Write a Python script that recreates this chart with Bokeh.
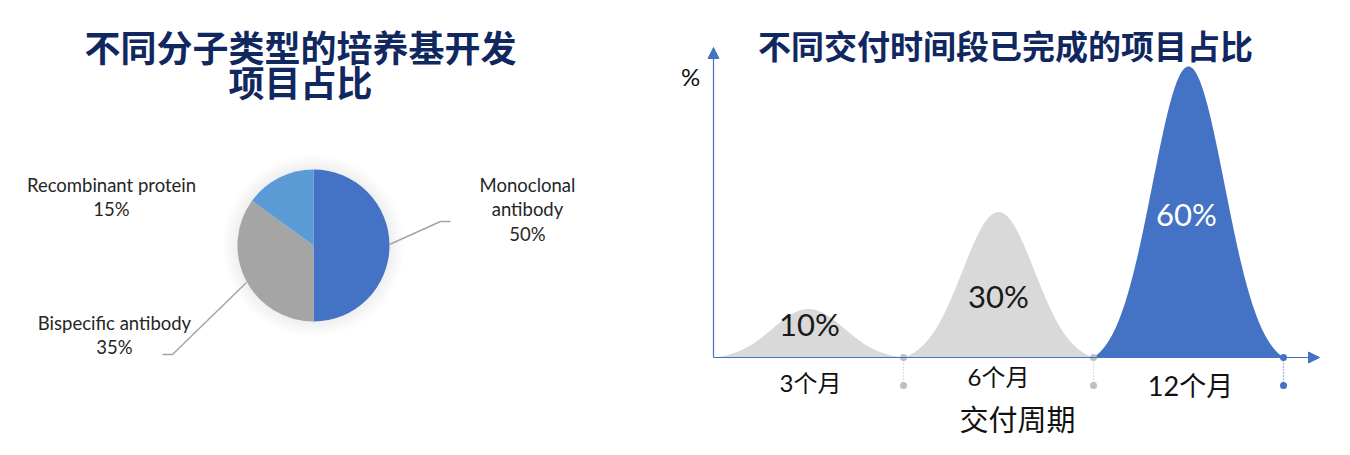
import numpy as np
from bokeh.plotting import figure
from bokeh.models import Range1d, Arrow, NormalHead, ColumnDataSource
from bokeh.layouts import row
from bokeh.core.properties import value
from bokeh.embed import file_html
from bokeh.resources import INLINE

# ---------------- data ----------------
pie_categories = ["Monoclonal antibody", "Bispecific antibody", "Recombinant protein"]
pie_values = [50, 35, 15]
pie_colors = ["#4472C4", "#A5A5A5", "#5B9BD5"]

period_labels = ["3个月", "6个月", "12个月"]
period_values = [10, 30, 60]
period_colors = ["#D9D9D9", "#D9D9D9", "#4472C4"]
period_text_colors = ["#1A1A1A", "#1A1A1A", "#FFFFFF"]
divider_colors = ["#BFBFBF", "#BFBFBF", "#4472C4"]

left_title = ["不同分子类型的培养基开发", "项目占比"]
right_title = "不同交付时间段已完成的项目占比"
x_axis_title = "交付周期"
y_axis_title = "%"

# ---------------- styling ----------------
NAVY = "#10285F"
CJK = "Noto Sans CJK SC"
LAT = "Lato"
MIX = "Lato, 'Noto Sans CJK SC'"
H = 439
LW, RW = 660, 674


def make_fig(w, xr, yr):
    f = figure(width=w, height=H, x_range=xr, y_range=yr, output_backend="svg",
               toolbar_location=None, min_border=0, x_axis_location=None,
               y_axis_location=None)
    f.grid.visible = False
    f.outline_line_color = None
    f.background_fill_color = "white"
    f.border_fill_color = "white"
    return f

# ================= left: pie =================
def L(px, py):
    return px, H - py

pl = make_fig(LW, Range1d(0, LW), Range1d(0, H))

cx, cy = L(313, 245)
R0 = 76
# soft glow
for r in range(R0 + 1, R0 + 16, 2):
    pl.circle(x=cx, y=cy, radius=r, fill_color="black", fill_alpha=0.006, line_color=None)

total = float(sum(pie_values))
cum = np.cumsum([0] + pie_values) / total
src = ColumnDataSource(dict(
    start=np.pi / 2 - 2 * np.pi * cum[:-1],
    end=np.pi / 2 - 2 * np.pi * cum[1:],
    color=pie_colors,
))
pl.wedge(x=cx, y=cy, radius=R0, start_angle="start", end_angle="end", direction="clock",
         fill_color="color", line_color=None, source=src)

# leader lines
for pts in ([(389, 244), (440, 221), (450, 221)], [(246, 282), (172, 354), (162, 354)]):
    xs, ys = zip(*[L(*p) for p in pts])
    pl.line(x=list(xs), y=list(ys), line_color="#A5A5A5", line_width=1.5)

# pie labels
lab_lines = {
    "Monoclonal antibody": (["Monoclonal", "antibody"], 527, 184),
    "Bispecific antibody": (["Bispecific antibody"], 114, 322),
    "Recombinant protein": (["Recombinant protein"], 111, 184),
}
tx, ty, tt = [], [], []
for cat, v in zip(pie_categories, pie_values):
    lines, px, py = lab_lines[cat]
    lines = lines + ["%d%%" % v]
    for k, s in enumerate(lines):
        x, y = L(px, py + 24.5 * k)
        tx.append(x); ty.append(y); tt.append(s)
pl.text(x=tx, y=ty, text=tt, text_align="center", text_baseline="middle",
        text_font=value(LAT), text_font_size="18.5px", text_color="#262626")

# title
t1 = L(300, 45); t2 = L(300, 80)
pl.text(x=[t1[0], t2[0]], y=[t1[1], t2[1]], text=left_title, text_align="center",
        text_baseline="middle", text_font=value(CJK), text_font_size="36px",
        text_font_style="bold", text_color=NAVY)

# ================= right: peaks =================
X0 = LW
ox, kx = 713.0, 190.0
base_py, ky = 357.0, 4.85

def R(px, py):
    return (px - ox) / kx, (base_py - py) / ky

pr = make_fig(RW, Range1d((X0 - ox) / kx, (X0 + RW - ox) / kx),
              Range1d((base_py - H) / ky, base_py / ky))

sig = 0.19
for i, (v, c) in enumerate(zip(period_values, period_colors)):
    xs = np.linspace(i, i + 1, 241)
    g = np.exp(-0.5 * ((xs - (i + 0.5)) / sig) ** 2)
    g0 = np.exp(-0.5 * (0.5 / sig) ** 2)
    shape = (g - g0) / (1 - g0)
    pr.varea(x=xs, y1=np.zeros_like(xs), y2=v * shape, fill_color=c)

BLUE = "#4472C4"
# axes with arrows
ytip = R(713, 47)[1]
xtip = R(1319, 357)[0]
pr.add_layout(Arrow(end=NormalHead(size=11, fill_color=BLUE, line_color=BLUE),
                    x_start=0, y_start=0, x_end=0, y_end=ytip,
                    line_color=BLUE, line_width=1.2))
pr.add_layout(Arrow(end=NormalHead(size=11, fill_color=BLUE, line_color=BLUE),
                    x_start=0, y_start=0, x_end=xtip, y_end=0,
                    line_color=BLUE, line_width=1.2))

# dividers under the axis
ylow = R(0, 385)[1]
for i, c in enumerate(divider_colors):
    xd = i + 1
    pr.segment(x0=xd, y0=0, x1=xd, y1=ylow, line_color=c, line_width=1.2, line_dash="1 2")
    pr.scatter(x=[xd, xd], y=[0, ylow], size=7, fill_color=c, line_color=None)

# value labels inside peaks
vpos = [(809, 323), (998, 295), (1186, 213)]
vx, vy = zip(*[R(*p) for p in vpos])
pr.text(x=list(vx), y=list(vy), text=["%d%%" % v for v in period_values],
        text_align="center", text_baseline="middle", text_font=value(LAT),
        text_font_size="31px", text_color=period_text_colors)

# category labels
cpos = [(810, 382), (998, 376), (1190, 385)]
csz = ["24px", "24px", "27px"]
for (px, py), lab, sz in zip(cpos, period_labels, csz):
    x, y = R(px, py)
    pr.text(x=[x], y=[y], text=[lab], text_align="center", text_baseline="middle",
            text_font=value(MIX), text_font_size=sz, text_color="#111111")

# axis titles
x, y = R(1017, 417)
pr.text(x=[x], y=[y], text=[x_axis_title], text_align="center", text_baseline="middle",
        text_font=value(CJK), text_font_size="29px", text_color="#111111")
x, y = R(690, 76)
pr.text(x=[x], y=[y], text=[y_axis_title], text_align="center", text_baseline="middle",
        text_font=value(LAT), text_font_size="24px", text_color="#111111")

# title
x, y = R(1005, 44)
pr.text(x=[x], y=[y], text=[right_title], text_align="center", text_baseline="middle",
        text_font=value(CJK), text_font_size="33px", text_font_style="bold", text_color=NAVY)

layout = row(pl, pr)
open("out.html", "w").write(file_html(layout, INLINE))
